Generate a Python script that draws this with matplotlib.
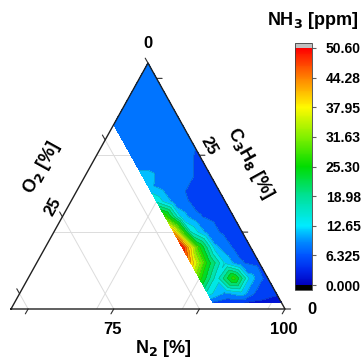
import numpy as np
import matplotlib
matplotlib.use("Agg")
import matplotlib.pyplot as plt
import matplotlib.tri as mtri
from matplotlib.colors import LinearSegmentedColormap, Normalize
from matplotlib.cm import ScalarMappable

plt.rcParams['font.family'] = ['Liberation Sans', 'DejaVu Sans']
plt.rcParams['font.weight'] = 'bold'

# measured points: O2 [%], C3H8 [%] (N2 is the balance), NH3 [ppm]
o2 = [0, 2.5, 5, 7.5, 10,
      0, 2.5, 5, 7.5, 10,
      0, 2.5, 5, 7.5, 10,
      0, 2.5, 5, 7.5, 10,
      0, 2.5, 5, 7.5, 10,
      0, 2.5, 5, 7.5, 10,
      0, 2.5, 5, 7.5, 10,
      0, 2.5, 5, 7.5, 10,
      0, 2.5, 5, 7.5, 10,
      0, 2.5, 5, 7.5, 10,
      0, 2.5, 5, 7.5, 10,
      7.5,
      0, 2.5, 5,
      2.5,
      0]
c3h8 = [1, 1, 1, 1, 1,
        2.5, 2.5, 2.5, 2.5, 2.5,
        5, 5, 5, 5, 5,
        7.5, 7.5, 7.5, 7.5, 7.5,
        10, 10, 10, 10, 10,
        12.5, 12.5, 12.5, 12.5, 12.5,
        15, 15, 15, 15, 15,
        17.5, 17.5, 17.5, 17.5, 17.5,
        20, 20, 20, 20, 20,
        25, 25, 25, 25, 25,
        30, 30, 30, 30, 30,
        32.5,
        35, 35, 35,
        37.5,
        40]
nh3 = [2.0, 2.5, 3.0, 4.0, 6.0,
       3.5, 4.5, 11.0, 9.0, 14.0,
       4.5, 11.0, 27.0, 14.0, 27.0,
       5.0, 6.5, 12.0, 24.0, 41.0,
       5.0, 6.0, 10.0, 26.0, 50.0,
       5.0, 5.5, 8.0, 16.0, 41.0,
       5.0, 5.5, 6.5, 11.0, 28.0,
       5.5, 5.5, 6.0, 8.5, 15.0,
       5.5, 6.0, 6.5, 7.5, 10.5,
       6.0, 7.0, 8.0, 8.5, 8.5,
       7.5, 8.0, 8.0, 8.0, 8.5,
       8.0,
       8.0, 8.0, 8.0,
       8.0,
       8.0]

vmin, vmax = 0.0, 50.6
cbar_ticks = [0.000, 6.325, 12.65, 18.98, 25.30, 31.63, 37.95, 44.28, 50.60]
cbar_ticklabels = ['0.000', '6.325', '12.65', '18.98', '25.30', '31.63', '37.95', '44.28', '50.60']

# axis windows of the zoomed ternary: N2 60-100, O2 0-40, C3H8 0-40
span = 40.0


def to_xy(o, c):
    o = np.asarray(o, float)
    c = np.asarray(c, float)
    n = 100 - o - c
    y = c / span
    x = (n - (100 - span)) / span + 0.5 * y
    return x, y


anchors = [(0.0, (0, 0, 190)), (3.16, (0, 40, 235)), (6.325, (0, 85, 255)),
           (9.49, (0, 145, 255)), (12.65, (0, 235, 255)), (18.98, (0, 225, 150)),
           (25.3, (0, 220, 0)), (31.63, (130, 240, 0)), (37.95, (255, 250, 0)),
           (44.28, (255, 130, 0)), (50.6, (255, 0, 0))]
cmap = LinearSegmentedColormap.from_list(
    'origin_rainbow', [(v / vmax, tuple(ch / 255 for ch in col)) for v, col in anchors])
cmap.set_under('black')
cmap.set_over('#c0c0c0')
norm = Normalize(vmin, vmax)

fig = plt.figure(figsize=(3.63, 3.60), dpi=100)
ax = fig.add_axes([11 / 363, 1 - 309 / 360, 274 / 363, 246 / 360])
ax.set_xlim(0, 1)
ax.set_ylim(0, 1)
ax.axis('off')

# grid lines every 12.5 %
grid_kw = dict(color='#dcdcdc', lw=0.7, zorder=1)
for v in [12.5, 25, 37.5]:
    ax.plot(*to_xy([0, span - v], [v, v]), **grid_kw)       # C3H8 constant
    ax.plot(*to_xy([v, v], [0, span - v]), **grid_kw)       # O2 constant
    nv = 100 - span + v
    ax.plot(*to_xy([100 - nv, 0], [0, 100 - nv]), **grid_kw)  # N2 constant

# contour map
x, y = to_xy(o2, c3h8)
tri = mtri.Triangulation(x, y)
levels = np.linspace(vmin, vmax, 17)
ax.tricontourf(tri, nh3, levels=levels, cmap=cmap, norm=norm, zorder=2)
ax.tricontour(tri, nh3, levels=levels[1:-1], colors='#303030', linewidths=0.3,
              alpha=0.45, zorder=3)

# triangle frame
ax.plot(*to_xy([40, 0, 0, 40], [0, 40, 0, 0]), color='#202020', lw=1.0, zorder=4,
        clip_on=False)

# ticks
tick_len = 4
arrow_kw = dict(arrowstyle='-', color='#303030', lw=0.8, shrinkA=0, shrinkB=0)
for v in [0, 12.5, 25, 37.5]:
    ax.annotate('', xy=to_xy(v, span - v), xytext=(-tick_len * 0.5, tick_len * 0.87),
                textcoords='offset points', arrowprops=arrow_kw)
    ax.annotate('', xy=to_xy(0, v), xytext=(tick_len, 0), textcoords='offset points',
                arrowprops=arrow_kw)
for v in [62.5, 75, 87.5, 100]:
    ax.annotate('', xy=to_xy(100 - v, 0), xytext=(-tick_len * 0.5, -tick_len * 0.87),
                textcoords='offset points', arrowprops=arrow_kw)

lab_fs = 12
ax.annotate('0', to_xy(0, 40), xytext=(0, 14), textcoords='offset points',
            ha='center', va='center', fontsize=lab_fs, fontweight='bold')
ax.annotate('25', to_xy(25, 15), xytext=(-7, 7), textcoords='offset points',
            ha='center', va='center', fontsize=lab_fs, fontweight='bold', rotation=61)
ax.annotate('0', to_xy(0, 0), xytext=(19.5, 0), textcoords='offset points',
            ha='center', va='center', fontsize=lab_fs, fontweight='bold')
ax.annotate('25', to_xy(0, 25), xytext=(6.5, 7), textcoords='offset points',
            ha='center', va='center', fontsize=lab_fs, fontweight='bold', rotation=-61)
for v in [75, 100]:
    ax.annotate(str(v), to_xy(100 - v, 0), xytext=(-1, -15), textcoords='offset points',
                ha='center', va='center', fontsize=lab_fs, fontweight='bold')

# axis titles
ax.text(0.113, 0.573, r'O$_2$ [%]', rotation=61, ha='center', va='center',
        fontsize=13, fontweight='bold', transform=ax.transAxes)
ax.text(0.872, 0.593, r'C$_3$H$_8$ [%]', rotation=-61, ha='center', va='center',
        fontsize=13, fontweight='bold', transform=ax.transAxes)
ax.text(0.555, -0.159, r'N$_2$ [%]', ha='center', va='center',
        fontsize=13, fontweight='bold', transform=ax.transAxes)

# colour bar
cax = fig.add_axes([295 / 363, 1 - 290 / 360, 17 / 363, 247 / 360])
sm = ScalarMappable(norm=norm, cmap=cmap)
cb = fig.colorbar(sm, cax=cax, extend='both', extendrect=True, extendfrac=0.021)
cb.set_ticks(cbar_ticks)
cb.set_ticklabels(cbar_ticklabels)
cb.outline.set_linewidth(0.6)
cb.outline.set_edgecolor('#404040')
cax.tick_params(length=3, width=0.8, color='#606060', pad=7)
for t in cax.get_yticklabels():
    t.set_fontweight('bold')
    t.set_fontsize(10)
cax.text(1.05, 1.07, r'NH$_3$ [ppm]', transform=cax.transAxes, ha='center',
         va='bottom', fontsize=13, fontweight='bold')

fig.savefig('out.png', dpi=100)
